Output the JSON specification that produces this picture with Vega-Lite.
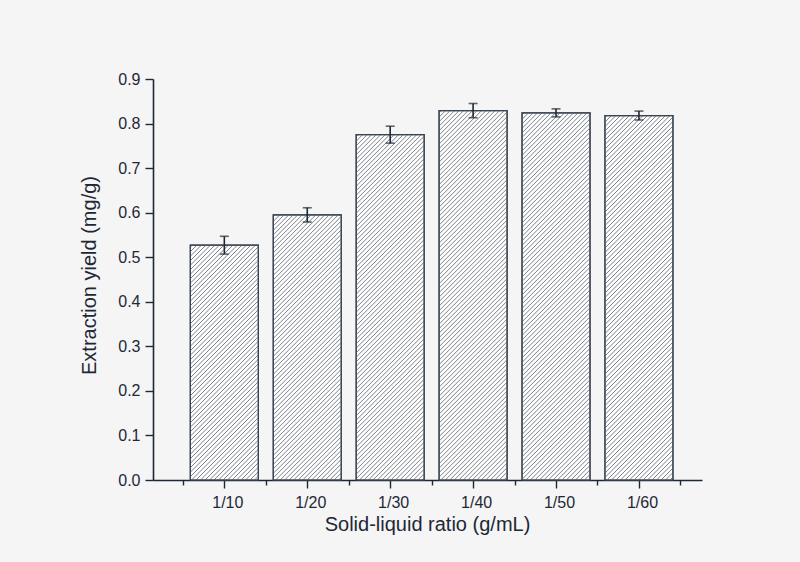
{
  "$schema": "https://vega.github.io/schema/vega-lite/v6.json",
  "width": 549,
  "height": 401,
  "autosize": {"type": "none"},
  "padding": {"left": 153, "top": 79, "right": 98, "bottom": 82},
  "background": "#f5f5f5",
  "view": {"stroke": null},
  "config": {
    "font": "Liberation Sans",
    "axis": {"grid": false, "domainColor": "#1e2835", "tickColor": "#1e2835", "labelColor": "#1e2835", "titleColor": "#1e2835", "domainWidth": 1.6, "tickWidth": 1.4, "labelFontSize": 16, "titleFontSize": 20, "titleFontWeight": "normal", "labelFont": "Liberation Sans", "titleFont": "Liberation Sans"}
  },
  "data": {
    "values": [
      {"ratio": "1/10", "idx": 1, "yield": 0.527, "lo": 0.507, "hi": 0.547},
      {"ratio": "1/20", "idx": 2, "yield": 0.595, "lo": 0.579, "hi": 0.611},
      {"ratio": "1/30", "idx": 3, "yield": 0.775, "lo": 0.756, "hi": 0.794},
      {"ratio": "1/40", "idx": 4, "yield": 0.829, "lo": 0.813, "hi": 0.845},
      {"ratio": "1/50", "idx": 5, "yield": 0.824, "lo": 0.815, "hi": 0.833},
      {"ratio": "1/60", "idx": 6, "yield": 0.818, "lo": 0.808, "hi": 0.828}
    ]
  },
  "encoding": {
    "x": {
      "field": "idx", "type": "quantitative",
      "scale": {"domain": [0.2, 6.7], "nice": false, "zero": false},
      "axis": {
        "title": "Solid-liquid ratio (g/mL)",
        "values": [0.5, 1, 1.5, 2, 2.5, 3, 3.5, 4, 4.5, 5, 5.5, 6, 6.5],
        "labelExpr": "datum.value % 1 == 0 ? '1/' + (datum.value * 10) : ''",
        "tickSize": {"condition": {"test": "datum.value % 1 == 0", "value": 8}, "value": 5},
        "labelPadding": 6,
        "labelOffset": 3,
        "labelOverlap": false,
        "labelFlush": false,
        "titleX": 274,
        "titleY": 50,
        "titleBaseline": "alphabetic",
        "titleAnchor": "middle"
      }
    }
  },
  "layer": [
    {
      "mark": {"type": "bar", "width": 68, "fill": "#ffffff", "stroke": "#3b4552", "strokeWidth": 1.2},
      "encoding": {
        "y": {
          "field": "yield", "type": "quantitative",
          "scale": {"domain": [0, 0.9], "nice": false},
          "axis": {
            "title": "Extraction yield (mg/g)",
            "values": [0, 0.05, 0.1, 0.15, 0.2, 0.25, 0.3, 0.35, 0.4, 0.45, 0.5, 0.55, 0.6, 0.65, 0.7, 0.75, 0.8, 0.85, 0.9],
            "labelExpr": "round(datum.value * 20) % 2 == 0 ? format(datum.value, '.1f') : ''",
            "tickSize": {"condition": {"test": "round(datum.value * 20) % 2 == 0", "value": 8}, "value": 5},
            "labelPadding": 5,
            "labelOverlap": false,
            "labelFlush": false,
            "titleX": -58,
            "titleY": 196,
            "titleBaseline": "alphabetic",
            "titleAngle": -90,
            "titleAnchor": "middle"
          }
        }
      }
    },
    {
      "mark": {
        "type": "point", "size": 4, "filled": false, "opacity": 1, "clip": true,
        "stroke": "#7a818a", "strokeWidth": 1,
        "shape": "M-32,0l-2,2M-27.5,0l-6.5,6.5M-23,0l-11,11M-18.5,0l-15.5,15.5M-14,0l-20,20M-9.5,0l-24.5,24.5M-5,0l-29,29M-0.5,0l-33.5,33.5M4,0l-38,38M8.5,0l-42.5,42.5M13,0l-47,47M17.5,0l-51.5,51.5M22,0l-56,56M26.5,0l-60.5,60.5M31,0l-65,65M34,1.5l-68,68M34,6l-68,68M34,10.5l-68,68M34,15l-68,68M34,19.5l-68,68M34,24l-68,68M34,28.5l-68,68M34,33l-68,68M34,37.5l-68,68M34,42l-68,68M34,46.5l-68,68M34,51l-68,68M34,55.5l-68,68M34,60l-68,68M34,64.5l-68,68M34,69l-68,68M34,73.5l-68,68M34,78l-68,68M34,82.5l-68,68M34,87l-68,68M34,91.5l-68,68M34,96l-68,68M34,100.5l-68,68M34,105l-68,68M34,109.5l-68,68M34,114l-68,68M34,118.5l-68,68M34,123l-68,68M34,127.5l-68,68M34,132l-68,68M34,136.5l-68,68M34,141l-68,68M34,145.5l-68,68M34,150l-68,68M34,154.5l-68,68M34,159l-68,68M34,163.5l-68,68M34,168l-68,68M34,172.5l-68,68M34,177l-68,68M34,181.5l-68,68M34,186l-68,68M34,190.5l-68,68M34,195l-68,68M34,199.5l-68,68M34,204l-68,68M34,208.5l-68,68M34,213l-68,68M34,217.5l-68,68M34,222l-68,68M34,226.5l-68,68M34,231l-68,68M34,235.5l-68,68M34,240l-68,68M34,244.5l-68,68M34,249l-68,68M34,253.5l-68,68M34,258l-68,68M34,262.5l-68,68M34,267l-68,68M34,271.5l-68,68M34,276l-68,68M34,280.5l-68,68M34,285l-68,68M34,289.5l-68,68M34,294l-68,68M34,298.5l-68,68M34,303l-68,68M34,307.5l-68,68M34,312l-68,68M34,316.5l-68,68M34,321l-68,68M34,325.5l-68,68M34,330l-68,68M34,334.5l-68,68M34,339l-68,68M34,343.5l-68,68M34,348l-68,68M34,352.5l-68,68M34,357l-68,68M34,361.5l-68,68M34,366l-68,68M34,370.5l-68,68M34,375l-68,68M34,379.5l-68,68"
      },
      "encoding": {
        "y": {"field": "yield", "type": "quantitative"}
      }
    },
    {
      "mark": {"type": "bar", "width": 68, "fillOpacity": 0, "stroke": "#3b4552", "strokeWidth": 1.2},
      "encoding": {
        "y": {"field": "yield", "type": "quantitative"}
      }
    },
    {
      "mark": {"type": "rule", "color": "#1e2835", "strokeWidth": 1.6},
      "encoding": {
        "y": {"field": "lo", "type": "quantitative"},
        "y2": {"field": "hi"}
      }
    },
    {
      "mark": {"type": "tick", "orient": "horizontal", "size": 9, "thickness": 1.6, "color": "#1e2835"},
      "encoding": {
        "y": {"field": "lo", "type": "quantitative"}
      }
    },
    {
      "mark": {"type": "tick", "orient": "horizontal", "size": 9, "thickness": 1.6, "color": "#1e2835"},
      "encoding": {
        "y": {"field": "hi", "type": "quantitative"}
      }
    }
  ]
}
